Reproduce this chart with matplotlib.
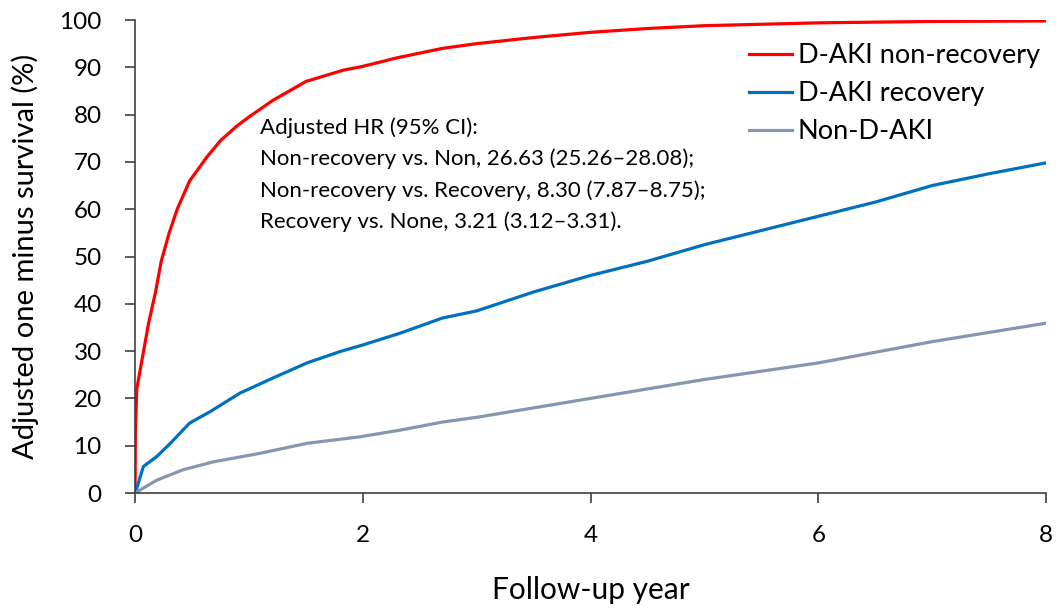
import matplotlib
matplotlib.use('Agg')
import matplotlib.pyplot as plt

plt.rcParams['font.family'] = ['Lato', 'DejaVu Sans']

# follow-up years and adjusted one minus survival (%)
RED_X = [0, 0.003, 0.015, 0.06, 0.12, 0.18, 0.23, 0.30, 0.37, 0.48, 0.63, 0.75, 0.89, 1.0,
         1.21, 1.5, 1.83, 2.0, 2.3, 2.7, 3.0, 3.5, 4.0, 4.5, 5.0, 6.0, 7.0, 8.0]
RED_Y = [0, 13, 22, 28, 36, 42.5, 49, 55, 60, 66, 71, 74.5, 77.5, 79.5,
         83, 87, 89.4, 90.2, 92, 94, 95, 96.3, 97.4, 98.2, 98.8, 99.4, 99.7, 99.8]

BLUE_X = [0, 0.01, 0.073, 0.19, 0.31, 0.48, 0.66, 0.92, 1.21, 1.51, 1.8, 2.0, 2.33, 2.7,
          3.0, 3.5, 4.0, 4.5, 5.0, 5.5, 6.0, 6.5, 7.0, 7.5, 8.0]
BLUE_Y = [0, 0.6, 5.6, 7.7, 10.5, 14.8, 17.2, 21.1, 24.3, 27.5, 29.9, 31.3, 33.8, 37,
          38.5, 42.5, 46, 49, 52.5, 55.5, 58.5, 61.5, 65, 67.5, 69.8]

GRAY_X = [0, 0.19, 0.42, 0.69, 1.1, 1.51, 1.98, 2.33, 2.7, 3.0, 4.0, 5.0, 6.0, 7.0, 8.0]
GRAY_Y = [0, 2.7, 4.9, 6.6, 8.4, 10.5, 11.9, 13.3, 15, 16, 20, 24, 27.5, 32, 35.9]

LABELS = ['D-AKI non-recovery', 'D-AKI recovery', 'Non-D-AKI']
COLORS = ['#FF0000', '#0070C0', '#8497B0']

NOTE = ('Adjusted HR (95% CI):\n'
        'Non-recovery vs. Non, 26.63 (25.26\u201328.08);\n'
        'Non-recovery vs. Recovery, 8.30 (7.87\u20138.75);\n'
        'Recovery vs. None, 3.21 (3.12\u20133.31).')

fig = plt.figure(figsize=(10.6, 6.1), dpi=100)
ax = fig.add_axes([0.1274, 0.1918, 0.8594, 0.7754])

for xs, ys, lab, col in zip([RED_X, BLUE_X, GRAY_X], [RED_Y, BLUE_Y, GRAY_Y], LABELS, COLORS):
    ax.plot(xs, ys, color=col, lw=2.3, label=lab, solid_joinstyle='round')

ax.set_xlim(0, 8)
ax.set_ylim(0, 100)
ax.set_xticks([0, 2, 4, 6, 8])
ax.set_yticks(range(0, 101, 10))
ax.spines['top'].set_visible(False)
ax.spines['right'].set_visible(False)
for s in ('left', 'bottom'):
    ax.spines[s].set_color('#404040')
    ax.spines[s].set_linewidth(1.2)
ax.tick_params(direction='out', length=7, width=1.2, color='#404040', labelsize=17.5)
ax.tick_params(axis='y', pad=17)
ax.tick_params(axis='x', pad=16)

ax.set_ylabel('Adjusted one minus survival (%)', fontsize=21)
ax.set_xlabel('Follow-up year', fontsize=21.5)
ax.yaxis.set_label_coords(-0.1207, 0.5)
ax.yaxis.label.set_va('center')
ax.xaxis.set_label_coords(0.5, -0.205)
ax.xaxis.label.set_va('center')

ax.text(0.137, 0.795, NOTE, transform=ax.transAxes, fontsize=16, va='top', ha='left',
        linespacing=1.66)

ax.legend(loc='upper right', bbox_to_anchor=(1.011, 0.985), frameon=False, fontsize=19.5,
          handlelength=1.6, handletextpad=0.2, labelspacing=0.48, borderaxespad=0.2)

fig.savefig('out.png', dpi=100)
